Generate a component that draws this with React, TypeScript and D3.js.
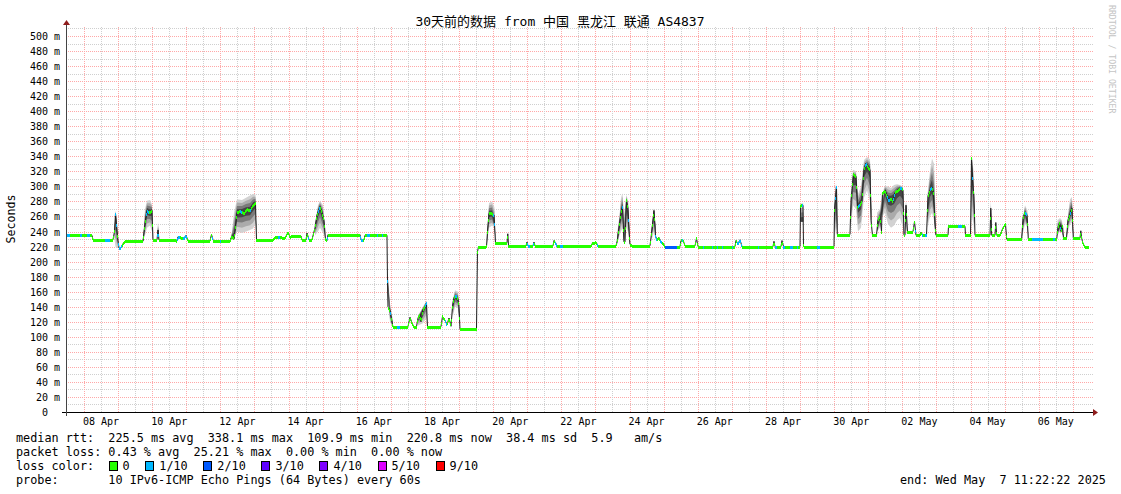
import React from "react";
import * as d3 from "d3";

// ---------------- DATA ----------------
const TITLE = "30天前的数据 from 中国 黑龙江 联通 AS4837";
const START_UTC = Date.UTC(2025, 3, 7, 11, 22, 22); // graph start
const SPAN_DAYS = 30;

// median rtt (ms) at day offsets from start
const medianDay = [
  0, 0.762, 0.792, 1.378, 1.422, 1.452, 1.496, 1.554, 1.613, 1.701, 1.73, 2.258, 2.317, 2.375, 2.463, 2.522, 2.551,
  2.669, 2.698, 2.727, 3.255, 3.284, 3.46, 3.519, 3.578, 4.223, 4.267, 4.311, 4.34, 4.809, 4.868, 4.927, 4.956, 5.015,
  5.103, 5.22, 5.308, 5.396, 5.484, 5.557, 5.587, 6.07, 6.129, 6.276, 6.422, 6.51, 6.569, 6.657, 6.892, 6.921, 7.038,
  7.068, 7.126, 7.214, 7.302, 7.361, 7.449, 7.507, 7.566, 7.61, 7.654, 7.683, 8.622, 8.651, 8.739, 8.768, 9.413,
  9.428, 9.443, 9.501, 9.575, 9.589, 10.029, 10.088, 10.147, 10.205, 10.279, 10.323, 10.381, 10.411, 10.469, 10.528,
  10.572, 10.601, 10.997, 11.041, 11.115, 11.173, 11.232, 11.29, 11.334, 11.378, 11.437, 11.496, 11.525, 11.554,
  12.038, 12.067, 12.097, 12.331, 12.361, 12.405, 12.493, 12.551, 12.595, 12.933, 12.956, 12.977, 13.49, 13.519,
  13.548, 13.695, 13.724, 13.754, 14.282, 14.311, 14.37, 14.399, 15.396, 15.425, 15.543, 15.601, 16.129, 16.173,
  16.232, 16.276, 16.32, 16.364, 16.393, 16.437, 16.481, 16.51, 16.54, 16.628, 17.126, 17.17, 17.214, 17.243, 17.287,
  17.331, 17.39, 17.449, 17.507, 17.566, 18.006, 18.035, 18.094, 18.152, 18.446, 18.49, 18.534, 19.619, 19.648,
  19.707, 19.766, 19.824, 20.733, 20.762, 20.792, 20.968, 20.997, 21.041, 21.525, 21.54, 21.613, 21.628, 22.522,
  22.537, 22.566, 22.595, 22.619, 22.991, 23.021, 23.094, 23.167, 23.211, 23.284, 23.343, 23.402, 23.461, 23.519,
  23.578, 23.607, 23.651, 23.768, 23.812, 23.871, 23.915, 23.944, 24.018, 24.076, 24.135, 24.194, 24.252, 24.311,
  24.399, 24.487, 24.545, 24.575, 24.604, 24.633, 24.677, 24.839, 24.883, 24.927, 25.044, 25.073, 25.132, 25.235,
  25.279, 25.337, 25.396, 25.44, 25.484, 25.513, 25.865, 25.88, 26.364, 26.378, 26.525, 26.554, 26.598, 26.628,
  26.657, 27.097, 27.12, 27.147, 27.243, 27.267, 27.293, 27.39, 27.478, 27.551, 27.587, 28.026, 28.065, 28.123,
  28.182, 28.22, 29.053, 29.091, 29.135, 29.179, 29.223, 29.252, 29.34, 29.384, 29.443, 29.501, 29.54, 29.736,
  29.76, 29.786, 29.824, 29.883, 30.0,
];
const medianMs = [
  235, 235, 229, 229, 240, 264, 240, 218, 219, 226, 227, 227, 250, 268, 265, 268, 229,
  229, 242, 229, 228, 233, 231, 235, 228, 228, 236, 229, 227, 227, 234, 230, 240, 265,
  268, 264, 270, 268, 275, 278, 228.5, 228.5, 232, 233, 231, 239, 233, 234, 234, 228.5, 228.5,
  238, 229, 229, 245, 262, 273, 265, 255, 230, 228, 236, 236, 229, 229, 235, 235,
  175, 140, 135, 116, 113.5, 113.5, 126, 118, 113.5, 113.5, 125, 130, 120, 136, 140,
  145, 113.5, 113.5, 127, 122, 116, 125, 114, 140, 152, 155, 150, 140, 110,
  110, 213, 220, 220, 240, 264, 264, 262, 225, 225, 237, 221, 221, 226,
  221, 221, 226, 221, 221, 228, 224, 221, 221, 224, 226, 221, 221, 229,
  250, 264, 273, 226, 226, 282, 270, 240, 223, 221, 221, 237, 255, 268, 234,
  229, 232, 226, 225, 220, 220, 228, 229, 221, 221, 231, 220, 220, 228,
  224, 229, 220, 220, 227, 220, 220, 228, 220, 220, 275, 275, 220, 220,
  270, 284, 300, 236, 236, 282, 317, 313, 273, 275, 280, 322, 331, 325,
  322, 255, 235, 235, 255, 260, 240, 291, 295, 287, 281, 284, 280, 292,
  295, 299, 295, 235, 235, 275, 240, 240, 253, 235, 235, 239, 235, 235,
  287, 295, 299, 291, 250, 235, 235, 247, 247, 235, 235, 338, 299, 287,
  235, 235, 271, 235, 235, 252, 235, 235, 245, 250, 230, 230, 258, 266,
  262, 230, 230, 245, 252, 240, 248, 231, 231, 255, 262, 271, 231, 231,
  241, 231, 224, 220, 220,
];

// smoke (ping spread): regions of [dayOffset, lowMs, highMs]
const smokeRegions: [number, number, number][][] = [
  [[1.422, 229, 240], [1.452, 220, 268], [1.496, 218, 255], [1.525, 218, 230]],
  [[2.258, 227, 229], [2.317, 235, 270], [2.375, 245, 281], [2.463, 248, 282], [2.522, 240, 276], [2.551, 229, 230]],
  [[2.683, 229, 232], [2.698, 235, 253], [2.727, 229, 235]],
  [[4.809, 227, 228], [4.868, 230, 240], [4.927, 236, 265], [5.015, 240, 283], [5.161, 238, 282], [5.279, 240, 285],
   [5.396, 242, 288], [5.484, 244, 290], [5.557, 250, 289], [5.587, 229, 230]],
  [[7.302, 235, 250], [7.39, 240, 275], [7.449, 245, 281], [7.537, 238, 275], [7.595, 230, 245]],
  [[9.428, 150, 190], [9.501, 120, 145], [9.575, 113, 125], [9.589, 113, 114]],
  [[10.323, 115, 128], [10.469, 118, 140], [10.572, 125, 148], [10.587, 113, 115]],
  [[11.334, 125, 148], [11.408, 140, 162], [11.496, 138, 160], [11.54, 115, 140]],
  [[12.346, 222, 235], [12.405, 245, 278], [12.493, 248, 280], [12.566, 245, 272], [12.595, 225, 226]],
  [[16.158, 222, 235], [16.232, 235, 262], [16.276, 240, 285], [16.32, 245, 291], [16.364, 225, 262],
   [16.437, 245, 289], [16.496, 238, 278], [16.54, 221, 232]],
  [[17.17, 228, 245], [17.243, 240, 271], [17.302, 228, 245]],
  [[21.534, 262, 277], [21.619, 262, 278]],
  [[22.531, 230, 285], [22.581, 245, 304], [22.616, 236, 290]],
  [[23.006, 240, 270], [23.079, 275, 322], [23.167, 270, 320], [23.226, 240, 290], [23.314, 245, 300],
   [23.402, 285, 335], [23.49, 295, 339], [23.578, 280, 336], [23.622, 240, 280]],
  [[23.783, 240, 265], [23.871, 245, 270], [23.93, 260, 290], [24.018, 265, 301], [24.106, 250, 300],
   [24.194, 245, 298], [24.282, 248, 302], [24.37, 255, 303], [24.457, 258, 302], [24.545, 245, 300], [24.575, 235, 240]],
  [[24.619, 236, 240], [24.633, 245, 282], [24.663, 236, 245]],
  [[25.264, 245, 290], [25.337, 260, 320], [25.396, 265, 337], [25.455, 255, 330], [25.484, 238, 290], [25.513, 235, 240]],
  [[26.54, 240, 330], [26.569, 260, 339], [26.613, 250, 320], [26.642, 235, 240]],
  [[27.111, 240, 280], [27.132, 238, 272]],
  [[28.026, 230, 232], [28.05, 235, 255], [28.123, 250, 275], [28.196, 245, 268], [28.22, 230, 231]],
  [[29.076, 235, 255], [29.15, 240, 258], [29.208, 238, 255], [29.252, 231, 233]],
  [[29.34, 231, 233], [29.384, 240, 262], [29.443, 250, 283], [29.501, 252, 286], [29.54, 231, 240]],
];

// periods with 1/10 packet loss (day offsets)
const loss1: [number, number][] = [
  [0.029, 0.117], [0.411, 0.469], [0.616, 0.704], [1.144, 1.29], [1.437, 1.496], [1.525, 1.642], [2.346, 2.434],
  [2.669, 2.727], [3.255, 3.343], [3.431, 3.548], [4.282, 4.311], [4.516, 4.545], [5.103, 5.161], [5.396, 5.425],
  [6.217, 6.276], [7.097, 7.126], [7.39, 7.449], [7.654, 7.683], [8.622, 8.71], [8.827, 8.915], [9.12, 9.15],
  [9.267, 9.296], [9.413, 9.443], [9.501, 9.531], [9.707, 9.795], [10.528, 10.587], [11.115, 11.173],
  [11.408, 11.466], [12.522, 12.581], [13.519, 13.607], [13.695, 13.724], [14.34, 14.399], [14.487, 14.575],
  [15.572, 15.601], [16.305, 16.334], [16.481, 16.51], [17.272, 17.331], [17.419, 17.478], [18.065, 18.094],
  [18.68, 18.71], [18.944, 18.974], [19.091, 19.12], [19.238, 19.267], [19.531, 19.56], [19.677, 19.824],
  [20.293, 20.323], [20.792, 20.85], [21.026, 21.085], [21.232, 21.32], [21.437, 21.466], [21.584, 21.613],
  [22.023, 22.111], [22.551, 22.61], [23.226, 23.284], [23.431, 23.49], [24.076, 24.164], [24.252, 24.311],
  [24.457, 24.516], [24.897, 24.927], [25.103, 25.132], [25.191, 25.249], [25.337, 25.396], [26.158, 26.276],
  [26.569, 26.598], [28.123, 28.182], [28.328, 28.651], [28.944, 29.003], [29.15, 29.179], [29.443, 29.472],
];
// periods with 2/10 packet loss
const loss2: [number, number][] = [[17.566, 17.918]];

const xTickLabels = ["08 Apr", "10 Apr", "12 Apr", "14 Apr", "16 Apr", "18 Apr", "20 Apr", "22 Apr", "24 Apr",
  "26 Apr", "28 Apr", "30 Apr", "02 May", "04 May", "06 May"];
const yTickValues = d3.range(0, 501, 20);

const lossLabels = ["0", "1/10", "2/10", "3/10", "4/10", "5/10", "9/10"];
const lossColors = ["#26ff00", "#00b8ff", "#0059ff", "#5e00ff", "#7e00ff", "#dd00ff", "#ff0000"];

const statLines = [
  "median rtt:  225.5 ms avg  338.1 ms max  109.9 ms min  220.8 ms now  38.4 ms sd  5.9   am/s",
  "packet loss: 0.43 % avg  25.21 % max  0.00 % min  0.00 % now",
];
const probeLine = "probe:       10 IPv6-ICMP Echo Pings (64 Bytes) every 60s";
const endLine = "end: Wed May  7 11:22:22 2025";

// ---------------- LAYOUT ----------------
const W = 1121;
const H = 494;
const L = 66;
const R = 1089;
const B = 412;
const T = 36;
const GRID_R = 1093;
const GRID_T = 27;
const MONO = "'DejaVu Sans Mono', 'Noto Sans CJK SC', monospace";
const CH = 7.09;

export default function App() {
  const start = new Date(START_UTC);
  const end = new Date(START_UTC + SPAN_DAYS * 864e5);
  const x = d3.scaleUtc().domain([start, end]).range([L, R]);
  const y = d3.scaleLinear().domain([0, 500]).range([B, T]);
  const toDate = (d: number) => new Date(START_UTC + d * 864e5);
  const medAt = d3.scaleLinear().domain(medianDay).range(medianMs).clamp(true);
  const inAny = (d: number, arr: [number, number][]) => arr.some(([a, b]) => d >= a && d <= b);
  const lossColor = (d: number) => (inAny(d, loss2) ? lossColors[2] : inAny(d, loss1) ? lossColors[1] : lossColors[0]);

  // grid
  const hGrid: JSX.Element[] = [];
  for (let v = 10; v <= 510; v += 10) {
    const yy = Math.round(y(v)) + 0.5;
    const major = v % 20 === 0 && v <= 500;
    hGrid.push(
      <line key={"h" + v} x1={L} x2={GRID_R} y1={yy} y2={yy}
        stroke={major ? "#ffa8a8" : "#cfcfcf"} strokeWidth={1} strokeDasharray="1 1" />
    );
  }
  const vGrid = d3.utcHour.every(12)!.range(new Date(START_UTC + 3600e3), end).map((t) => {
    const xx = Math.round(x(t)) + 0.5;
    const major = t.getUTCHours() === 0;
    return (
      <line key={"v" + t.getTime()} x1={xx} x2={xx} y1={B} y2={GRID_T}
        stroke={major ? "#ffa8a8" : "#cfcfcf"} strokeWidth={1} strokeDasharray="1 1" />
    );
  });

  // smoke
  const layers = [
    { f: 1, c: "#d2d2d2" },
    { f: 0.75, c: "#ababab" },
    { f: 0.5, c: "#7a7a7a" },
    { f: 0.25, c: "#454545" },
  ];
  const smoke = smokeRegions.map((reg, ri) =>
    layers.map((ly, li) => {
      const area = d3
        .area<[number, number, number]>()
        .x((p) => x(toDate(p[0])))
        .y0((p) => {
          const m = medAt(p[0]);
          const lo = Math.min(p[1], m);
          return y(m - (m - lo) * ly.f);
        })
        .y1((p) => {
          const m = medAt(p[0]);
          const hi = Math.max(p[2], m);
          return y(m + (hi - m) * ly.f);
        });
      return <path key={`s${ri}-${li}`} d={area(reg) || ""} fill={ly.c} />;
    })
  );

  // median black line
  const medLine = d3
    .line<number>()
    .x((d) => x(toDate(d)))
    .y((_, i) => y(medianMs[i]))(medianDay);

  // loss-colored median strips
  const strips: JSX.Element[] = [];
  for (let c = L; c < R; c++) {
    const d = (x.invert(c + 0.5).getTime() - START_UTC) / 864e5;
    const v = medAt(d);
    strips.push(<rect key={"m" + c} x={c} y={Math.round(y(v)) - 1} width={1} height={3} fill={lossColor(d)} />);
  }

  // x labels
  const parse = d3.utcParse("%d %b %Y");
  const xLabels = xTickLabels.map((lab) => {
    const dt = parse(lab + " 2025")!;
    const noon = new Date(dt.getTime() + 12 * 3600e3);
    return (
      <text key={lab} x={x(noon)} y={425} textAnchor="middle" fontSize={10} fontFamily={MONO} fill="#000">
        {lab}
      </text>
    );
  });

  const yLabels = yTickValues.map((v) => (
    <text key={"yl" + v} x={60} y={Math.round(y(v)) + 4} textAnchor="end" fontSize={10} fontFamily={MONO}
      fill="#000" style={{ whiteSpace: "pre" }}>
      {v === 0 ? "0  " : `${v} m`}
    </text>
  ));

  // legend swatches
  const legendItems: JSX.Element[] = [];
  let pos = 108.5;
  lossLabels.forEach((lab, i) => {
    legendItems.push(
      <g key={"lg" + i}>
        <rect x={Math.round(pos) + 0.5} y={461.5} width={8} height={9} fill={lossColors[i]} stroke="#000" strokeWidth={1} />
        <text x={pos + 14} y={470} fontSize={11.8} fontFamily={MONO} fill="#000">{lab}</text>
      </g>
    );
    pos = pos + 14 + lab.length * CH + 15.7;
  });

  return (
    <svg width={W} height={H} style={{ position: "absolute", left: 0, top: 0, background: "#fff" }}
      xmlns="http://www.w3.org/2000/svg">
      <rect x={0} y={0} width={W} height={H} fill="#fff" />
      <text x={560} y={26} textAnchor="middle" fontSize={13} fontFamily={MONO} fill="#000">{TITLE}</text>
      <text transform="translate(1109,5) rotate(90)" fontSize={8.2} fontFamily={MONO} fill="#c4c4c4">
        RRDTOOL / TOBI OETIKER
      </text>
      <text transform="translate(15,219) rotate(-90)" textAnchor="middle" fontSize={11.6} fontFamily={MONO} fill="#000">
        Seconds
      </text>
      <g>{hGrid}</g>
      <g>{vGrid}</g>
      <g>{smoke}</g>
      <path d={medLine || ""} fill="none" stroke="#202020" strokeWidth={1} />
      <g>{strips}</g>
      {/* axes */}
      <line x1={62} x2={GRID_R} y1={B + 0.5} y2={B + 0.5} stroke="#000" strokeWidth={1} />
      <line x1={L + 0.5} x2={L + 0.5} y1={416} y2={25} stroke="#444" strokeWidth={1} />
      <path d={`M${GRID_R},${B - 3} L${GRID_R + 5},${B + 0.5} L${GRID_R},${B + 4} Z`} fill="#8f1d1d" />
      <path d={`M${L - 3},${25} L${L + 0.5},${20} L${L + 4},${25} Z`} fill="#8f1d1d" />
      <g>{yLabels}</g>
      <g>{xLabels}</g>
      {statLines.map((s, i) => (
        <text key={"st" + i} x={16} y={442 + i * 14} fontSize={11.8} fontFamily={MONO} fill="#000"
          style={{ whiteSpace: "pre" }}>{s}</text>
      ))}
      <text x={16} y={470} fontSize={11.8} fontFamily={MONO} fill="#000" style={{ whiteSpace: "pre" }}>loss color:</text>
      {legendItems}
      <text x={16} y={484} fontSize={11.8} fontFamily={MONO} fill="#000" style={{ whiteSpace: "pre" }}>{probeLine}</text>
      <text x={900} y={484} fontSize={11.8} fontFamily={MONO} fill="#000" style={{ whiteSpace: "pre" }}>{endLine}</text>
    </svg>
  );
}
